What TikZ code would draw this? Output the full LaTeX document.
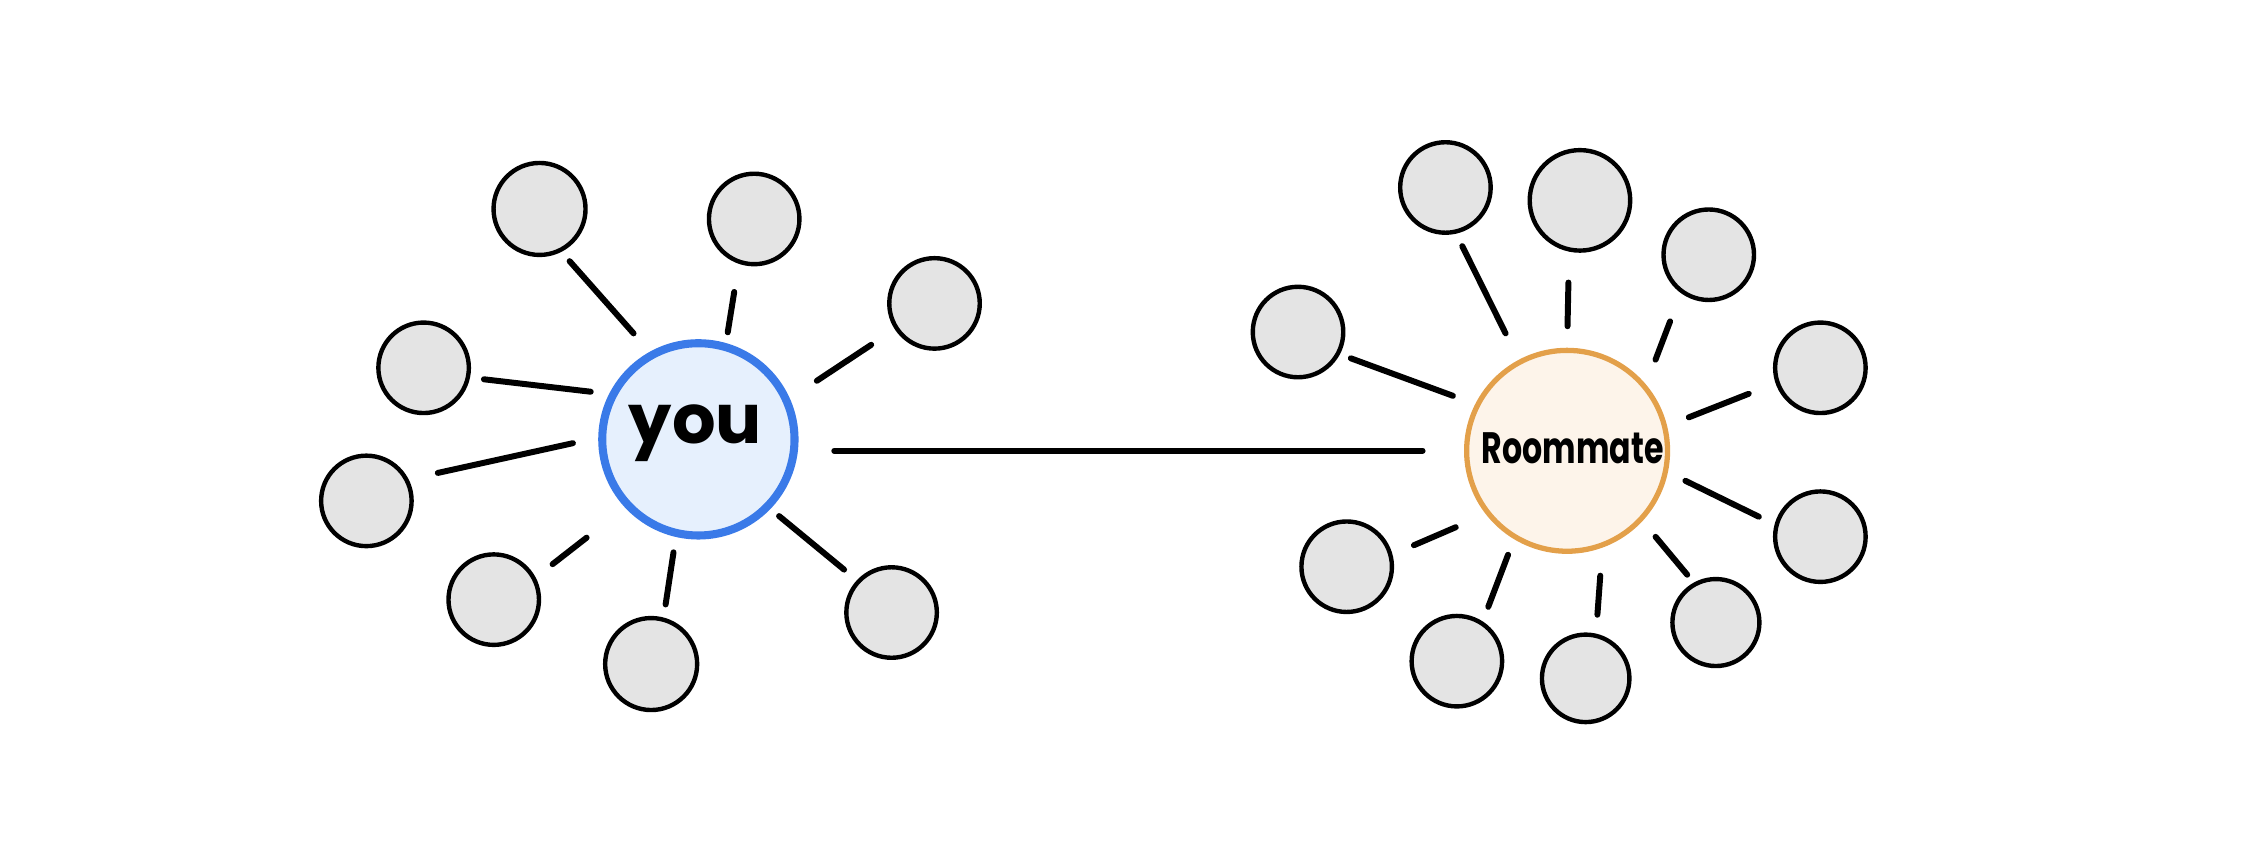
\documentclass[tikz,border=0pt]{standalone}
\usepackage{fontspec}
\usepackage{graphicx}
\setmainfont{Poppins}
\definecolor{youfill}{HTML}{E6F0FD}
\definecolor{youline}{HTML}{3A7AE8}
\definecolor{rmfill}{HTML}{FDF4EA}
\definecolor{rmline}{HTML}{E3A04A}
\definecolor{friend}{HTML}{E4E4E4}
\begin{document}
\begin{tikzpicture}[x=0.01431cm, y=-0.01431cm,
  friendnode/.style={circle, draw=black, fill=friend, line width=1.25pt,
    inner sep=0pt, minimum size=#1},
  friendnode/.default=0.905cm,
  hubyou/.style={circle, draw=youline, fill=youfill, line width=2.3pt,
    inner sep=0pt, minimum size=1.923cm},
  hubrm/.style={circle, draw=rmline, fill=rmfill, line width=1.5pt,
    inner sep=0pt, minimum size=2.009cm},
  stub/.style={line width=1.7pt, line cap=round}]
\useasboundingbox (0,0) rectangle (1568,603);

% hubs
\node[hubyou] (Y) at (488,307) {};
\node[hubrm] (R) at (1095,315) {};
\node (Ytext) at (486,303) {\fontsize{19.5}{20}\selectfont\bfseries you};
\node (Rtext) at (1099,313) {\scalebox{0.72}[1]{\fontsize{12.5}{13}\selectfont\bfseries Roommate}};

% friends around "you"
\node[friendnode=0.92cm] (L1) at (377,146) {};
\node[friendnode] (L2) at (527,153) {};
\node[friendnode] (L3) at (653,212) {};
\node[friendnode] (L4) at (296,257) {};
\node[friendnode] (L5) at (256,350) {};
\node[friendnode] (L6) at (345,419) {};
\node[friendnode=0.92cm] (L7) at (455,464) {};
\node[friendnode] (L8) at (623,428) {};

% friends around the roommate
\node[friendnode] (R1) at (907,232) {};
\node[friendnode] (R2) at (1010,131) {};
\node[friendnode=1.005cm] (R3) at (1104,140) {};
\node[friendnode] (R4) at (1194,178) {};
\node[friendnode] (R5) at (1272,257) {};
\node[friendnode] (R6) at (1272,375) {};
\node[friendnode] (R7) at (941,396) {};
\node[friendnode] (R8) at (1018,462) {};
\node[friendnode=0.875cm] (R9) at (1108,474) {};
\node[friendnode=0.87cm] (R10) at (1199,435) {};

% short links to "you"
\draw[stub, shorten <=0.124cm, shorten >=0.245cm] (L1.297.5) -- (Y.119.7);
\draw[stub, shorten <=0.285cm, shorten >=0.109cm] (L2.251.5) -- (Y.74.5);
\draw[stub, shorten <=0.282cm, shorten >=0.323cm] (L3.213.5) -- (Y.24.0);
\draw[stub, shorten <=0.140cm, shorten >=0.185cm] (L4.348.1) -- (Y.153.6);
\draw[stub, shorten <=0.299cm, shorten >=0.259cm] (L5.27.9) -- (Y.179.3);
\draw[stub, shorten <=0.215cm, shorten >=0.488cm] (L6.28.9) -- (Y.223.7);
\draw[stub, shorten <=0.132cm, shorten >=0.155cm] (L7.75.1) -- (Y.257.4);
\draw[stub, shorten <=0.166cm, shorten >=0.112cm] (L8.137.0) -- (Y.316.7);

% short links to the roommate
\draw[stub, shorten <=0.116cm, shorten >=0.238cm] (R1.332.8) -- (R.153.5);
\draw[stub, shorten <=0.139cm, shorten >=0.295cm] (R2.283.4) -- (R.118.1);
\draw[stub, shorten <=0.309cm, shorten >=0.215cm] (R3.258.3) -- (R.90.4);
\draw[stub, shorten <=0.303cm, shorten >=0.266cm] (R4.234.5) -- (R.40.7);
\draw[stub, shorten <=0.288cm, shorten >=0.233cm] (R5.199.1) -- (R.14.6);
\draw[stub, shorten <=0.175cm, shorten >=0.195cm] (R6.165.0) -- (R.348.0);
\draw[stub, shorten <=0.233cm, shorten >=0.328cm] (R7.15.4) -- (R.218.6);
\draw[stub, shorten <=0.156cm, shorten >=0.167cm] (R8.57.1) -- (R.239.4);
\draw[stub, shorten <=0.189cm, shorten >=0.281cm] (R9.77.9) -- (R.290.6);
\draw[stub, shorten <=0.102cm, shorten >=0.205cm] (R10.119.4) -- (R.317.3);

% you -- roommate
\draw[stub, shorten <=1.359cm, shorten >=1.445cm] (Y.center |- R.center) -- (R.center);
\end{tikzpicture}
\end{document}
